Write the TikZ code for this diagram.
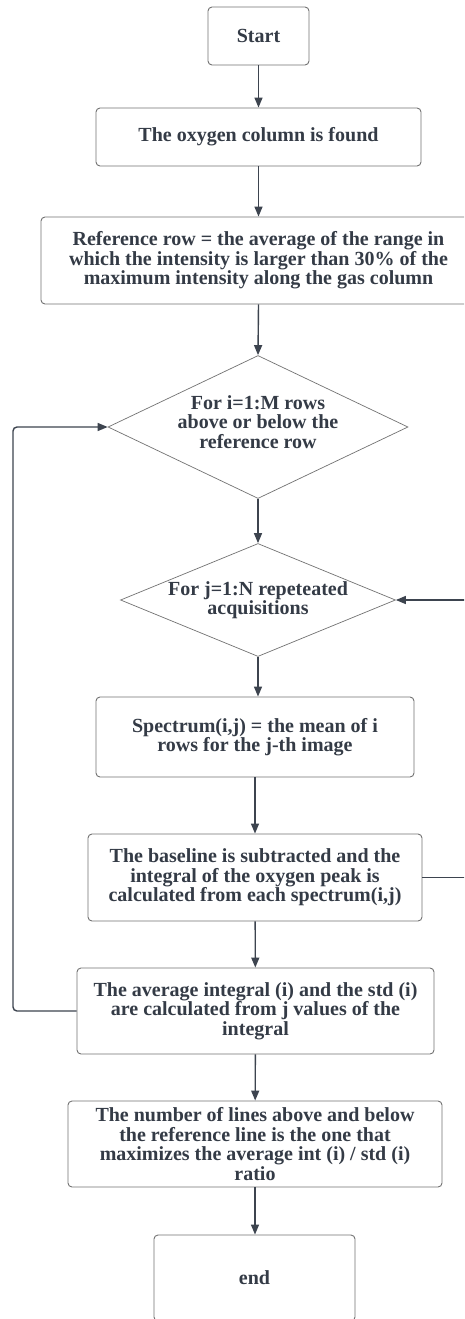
\documentclass[tikz,border=0pt]{standalone}
\usepackage{fontspec}
\setmainfont{Liberation Serif}
\usepackage{tikz}
\usetikzlibrary{arrows.meta}
\usetikzlibrary{shapes.geometric}

\begin{document}
\begin{tikzpicture}[x=1pt, y=-1pt,
    txt/.style={align=center, text=textdark, font=\fontsize{20}{19.5}\selectfont\bfseries},
    box/.style={txt, draw=boxgray, line width=0.9pt, rounded corners=4pt, inner sep=0pt},
    decision/.style={txt, diamond, draw=boxgray, line width=0.7pt, inner sep=0pt},
    flow/.style={draw=linedark, line width=1.4pt, -{Triangle[length=10pt,width=8pt]}}]
        \definecolor{textdark}{HTML}{343B46}
        \definecolor{boxgray}{HTML}{727272}
        \definecolor{linedark}{HTML}{3D444F}

        \clip (0,0) rectangle (464,1319);
        \fill[white] (0,0) rectangle (464,1319);

        % Boxes of the main column
        \node[box, minimum width=101pt, minimum height=58pt] (start) at (258.5,36) {Start};
        \node[box, minimum width=325pt, minimum height=58pt] (oxygen) at (258.5,137) {The oxygen column is found};
        \node[box, minimum width=435pt, minimum height=87pt] (refrow) at (258.5,260.5)
            {Reference row = the average of the range in\\which the intensity is larger than 30\% of the\\maximum intensity along the gas column};

        % The two loops
        \node[decision, shape aspect=2.1, text depth=10pt, minimum width=300pt, minimum height=143pt] (loopi) at (258,427)
            {For i=1:M rows\\above or below the\\reference row};
        \node[decision, shape aspect=2.45, minimum width=275pt, minimum height=113pt] (loopj) at (258,600)
            {For j=1:N repeteated\\acquisitions};

        % Inside the loops
        \node[box, minimum width=318pt, minimum height=80pt] (spectrum) at (255,737)
            {Spectrum(i,j) = the mean of i\\rows for the j-th image};
        \node[box, minimum width=334pt, minimum height=87pt] (baseline) at (255,877.5)
            {The baseline is subtracted and the\\integral of the oxygen peak is\\calculated from each spectrum(i,j)};
        \node[box, minimum width=357pt, minimum height=86pt] (average) at (255.5,1011)
            {The average integral (i) and the std (i)\\are calculated from j values of the\\integral};

        % Result and end
        \node[box, minimum width=374pt, minimum height=86pt] (ratio) at (255,1144)
            {The number of lines above and below\\the reference line is the one that\\maximizes the average int (i) / std (i)\\ratio};
        \node[box, minimum width=201pt, minimum height=86pt] (end) at (254.5,1278) {end};

        % Arrows down the column
        \draw[flow] (start) -- (oxygen);
        \draw[flow] (oxygen) -- (refrow);
        \draw[flow] (refrow.south) -- (loopi.north);
        \draw[flow] (loopi) -- (loopj);
        \draw[flow] (loopj.south) -- (loopj.south |- spectrum.north);
        \draw[flow] (spectrum) -- (baseline);
        \draw[flow] (baseline) -- (average);
        \draw[flow] (average) -- (ratio);
        \draw[flow] (ratio.south) -- (ratio.south |- end.north);

        % Loop back arrows
        \coordinate (rightturn) at (474,0);
        \coordinate (leftturn) at (13,0);
        \draw[flow] (baseline.east) -- (rightturn |- baseline.east) -- (rightturn |- loopj.east) -- (loopj.east);
        \draw[flow, rounded corners=4pt] (average.west) -- (leftturn |- average.west) -- (leftturn |- loopi.west) -- (loopi.west);
    \end{tikzpicture}
\end{document}
